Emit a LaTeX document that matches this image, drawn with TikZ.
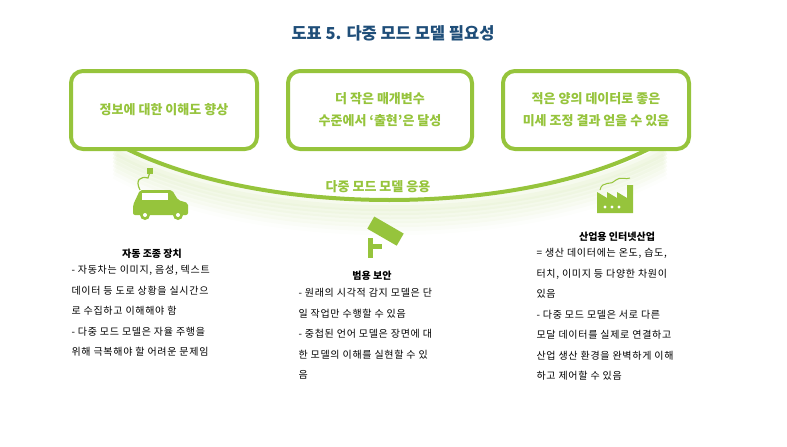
\documentclass[tikz,border=0pt]{standalone}
\usepackage{fontspec}
\setmainfont{Noto Sans CJK KR}
\definecolor{lime}{RGB}{150,196,60}
\definecolor{glow}{RGB}{225,238,200}
\definecolor{navy}{RGB}{31,78,121}
\tikzset{gbox/.style={draw=lime,line width=4pt,rounded corners=12pt,fill=white},
 btxt/.style={text=lime,font=\fontsize{13}{22}\selectfont\bfseries,align=center},
 body/.style={font=\fontsize{10}{20.5}\selectfont\addfontfeatures{LetterSpace=7},anchor=north west,align=left},
 head/.style={font=\fontsize{10}{12}\selectfont\bfseries}}
\begin{document}
\begin{tikzpicture}[x=1pt,y=-1pt]
\useasboundingbox (0,0) rectangle (787,447);
\node[font=\fontsize{16.5}{18}\selectfont\bfseries,text=navy] (title) at (393,33) {도표 5. 다중 모드 모델 필요성};
% glow
\foreach \i/\o in {0/0.30,4/0.26,8/0.22,12/0.18,16/0.14,20/0.10,24/0.06}{
 \draw[glow,line width=10pt,opacity=\o] (115,150+\i) .. controls (250,225+\i) and (530,225+\i) .. (665,150+\i);}
\draw[lime,line width=4pt] (110,140) .. controls (250,220) and (530,220) .. (665,140);
\node[gbox,minimum width=186pt,minimum height=78pt] (b1) at (164,110) {};
\node[gbox,minimum width=184pt,minimum height=78pt] (b2) at (380,110) {};
\node[gbox,minimum width=186pt,minimum height=78pt] (b3) at (596,110) {};
\node[btxt] at (b1) {정보에 대한 이해도 향상};
\node[btxt] at (b2) {더 작은 매개변수\\수준에서 ‘출현’은 달성};
\node[btxt] at (b3) {적은 양의 데이터로 좋은\\미세 조정 결과 얻을 수 있음};
\node[text=lime,font=\fontsize{13}{16}\selectfont\bfseries] (app) at (378,187) {다중 모드 모델 응용};
% car icon
\fill[lime,rounded corners=2pt] (133,205) -- (140,190) -- (172,190) -- (178,200) -- (188,203) -- (188,215) -- (133,215) -- cycle;
\fill[white] (142,193) rectangle (168,200);
\fill[lime] (145,215) circle (5); \fill[white] (145,215) circle (2);
\fill[lime] (178,215) circle (5); \fill[white] (178,215) circle (2);
\draw[lime,line width=1.2pt] (140,190) .. controls (135,180) and (140,176) .. (148,178) -- (150,172);
\fill[lime] (147,168) rectangle (153,174);
% camera icon
\fill[lime,rotate around={-30:(385,232)}] (368,224) rectangle (402,238);
\fill[lime] (368,238) rectangle (373,258); \fill[lime] (368,244) rectangle (382,249);
% factory
\fill[lime] (597,213) -- (597,192) -- (607,198) -- (607,192) -- (617,198) -- (617,192) -- (627,198) -- (627,185) -- (633,185) -- (633,213) -- cycle;
\fill[white] (605,207) circle (1.6) (612,207) circle (1.6) (619,207) circle (1.6);
\draw[lime,line width=1pt] (600,190) .. controls (602,180) and (612,186) .. (616,180) .. controls (620,176) and (626,180) .. (630,178);
% texts
\node[head] (h1) at (152,254) {자동 조종 장치};
\node[body] (t1) at (68,262) {- 자동차는 이미지, 음성, 텍스트\\데이터 등 도로 상황을 실시간으\\로 수집하고 이해해야 함\\- 다중 모드 모델은 자율 주행을\\위해 극복해야 할 어려운 문제임};
\node[head] (h2) at (372,276) {범용 보안};
\node[body] (t2) at (295,285) {- 원래의 시각적 감지 모델은 단\\일 작업만 수행할 수 있음\\- 중첩된 언어 모델은 장면에 대\\한 모델의 이해를 실현할 수 있\\음};
\node[head] (h3) at (617,237) {산업용 인터넷산업};
\node[body] (t3) at (533,245) {= 생산 데이터에는 온도, 습도,\\터치, 이미지 등 다양한 차원이\\있음\\- 다중 모드 모델은 서로 다른\\모달 데이터를 실제로 연결하고\\산업 생산 환경을 완벽하게 이해\\하고 제어할 수 있음};
\end{tikzpicture}
\end{document}
